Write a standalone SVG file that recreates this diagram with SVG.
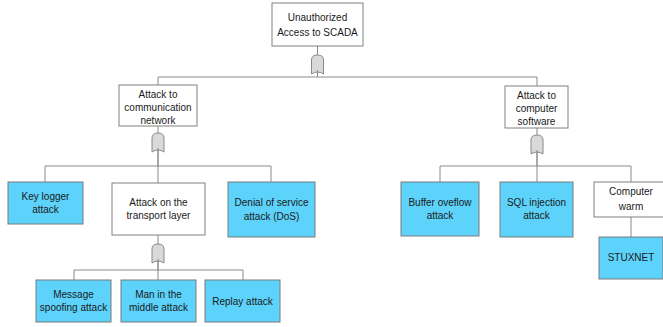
<svg xmlns="http://www.w3.org/2000/svg" width="663" height="327" viewBox="0 0 663 327">
  <defs>
    <style>
      .box { fill: #ffffff; stroke: #808080; stroke-width: 1; }
      .leaf { fill: #5dd3fb; stroke: #7a7a7a; stroke-width: 1; }
      .lbl { font-family: "Liberation Sans", Arial, sans-serif; font-size: 10px; fill: #1a1a1a; text-anchor: middle; }
      .wire { fill: none; stroke: #8a8a8a; stroke-width: 1; }
      .gate { fill: #d9d9d9; stroke: #8a8a8a; stroke-width: 1; }
    </style>
    <!-- OR gate, centred on x=0, spanning y=0..19 -->
    <path id="orgate" d="M -6 5 Q -6 0 0 0 Q 6 0 6 5 L 6 19 Q 0 15 -6 19 Z"/>
  </defs>
  <rect width="663" height="327" fill="#ffffff"/>

  <g id="connectors">
    <!-- root to level 1 -->
    <line class="wire" x1="317.5" y1="46" x2="317.5" y2="77"/>
    <polyline class="wire" points="158,85 158,77 537,77 537,86"/>
    <!-- communication network branch -->
    <line class="wire" x1="158" y1="126" x2="158" y2="166"/>
    <polyline class="wire" points="45,182 45,166 271,166 271,182"/>
    <line class="wire" x1="158" y1="166" x2="158" y2="183"/>
    <!-- transport layer branch -->
    <line class="wire" x1="158" y1="235" x2="158" y2="280"/>
    <polyline class="wire" points="74,280 74,270 243,270 243,280"/>
    <!-- computer software branch -->
    <line class="wire" x1="537" y1="128" x2="537" y2="182"/>
    <polyline class="wire" points="440,182 440,166 631,166 631,182"/>
    <line class="wire" x1="631" y1="217" x2="631" y2="237"/>
    <!-- gates -->
    <use href="#orgate" class="gate" x="317.5" y="55"/>
    <line class="wire" x1="317.5" y1="70" x2="317.5" y2="77"/>
    <use href="#orgate" class="gate" x="158" y="133"/>
    <line class="wire" x1="158" y1="148" x2="158" y2="166"/>
    <use href="#orgate" class="gate" x="537" y="135"/>
    <line class="wire" x1="537" y1="150" x2="537" y2="166"/>
    <use href="#orgate" class="gate" x="158" y="244"/>
    <line class="wire" x1="158" y1="259" x2="158" y2="270"/>
  </g>

  <g id="root">
    <rect class="box" x="272" y="3" width="91" height="43"/>
    <text class="lbl" x="317.5" y="21">Unauthorized</text>
    <text class="lbl" x="317.5" y="36">Access to SCADA</text>
  </g>

  <g id="comm-network">
    <rect class="box" x="119" y="85" width="78" height="41"/>
    <text class="lbl" x="158" y="98">Attack to</text>
    <text class="lbl" x="158" y="111">communication</text>
    <text class="lbl" x="158" y="124">network</text>
  </g>

  <g id="computer-software">
    <rect class="box" x="505" y="86" width="63" height="42"/>
    <text class="lbl" x="536.5" y="99">Attack to</text>
    <text class="lbl" x="536.5" y="112">computer</text>
    <text class="lbl" x="536.5" y="125">software</text>
  </g>

  <g id="key-logger">
    <rect class="leaf" x="8" y="182" width="75" height="42"/>
    <text class="lbl" x="45.5" y="200">Key logger</text>
    <text class="lbl" x="45.5" y="213">attack</text>
  </g>

  <g id="transport-layer">
    <rect class="box" x="112" y="183" width="93" height="52"/>
    <text class="lbl" x="158.5" y="206">Attack on the</text>
    <text class="lbl" x="158.5" y="219">transport layer</text>
  </g>

  <g id="dos">
    <rect class="leaf" x="228" y="182" width="87" height="55"/>
    <text class="lbl" x="271.5" y="206">Denial of service</text>
    <text class="lbl" x="271.5" y="220">attack (DoS)</text>
  </g>

  <g id="message-spoofing">
    <rect class="leaf" x="36" y="280" width="75" height="42"/>
    <text class="lbl" x="73.5" y="298">Message</text>
    <text class="lbl" x="73.5" y="311">spoofing attack</text>
  </g>

  <g id="man-in-the-middle">
    <rect class="leaf" x="121" y="280" width="75" height="42"/>
    <text class="lbl" x="158.5" y="298">Man in the</text>
    <text class="lbl" x="158.5" y="311">middle attack</text>
  </g>

  <g id="replay">
    <rect class="leaf" x="205" y="280" width="75" height="42"/>
    <text class="lbl" x="242.5" y="305">Replay attack</text>
  </g>

  <g id="buffer-overflow">
    <rect class="leaf" x="401" y="182" width="78" height="54"/>
    <text class="lbl" x="440" y="206">Buffer oveflow</text>
    <text class="lbl" x="440" y="219">attack</text>
  </g>

  <g id="sql-injection">
    <rect class="leaf" x="500" y="182" width="73" height="55"/>
    <text class="lbl" x="536.5" y="206">SQL injection</text>
    <text class="lbl" x="536.5" y="219">attack</text>
  </g>

  <g id="computer-warm">
    <rect class="box" x="594" y="182" width="74" height="35"/>
    <text class="lbl" x="631" y="195">Computer</text>
    <text class="lbl" x="631" y="210">warm</text>
  </g>

  <g id="stuxnet">
    <rect class="leaf" x="599" y="237" width="64" height="42"/>
    <text class="lbl" x="631" y="261">STUXNET</text>
  </g>
</svg>
